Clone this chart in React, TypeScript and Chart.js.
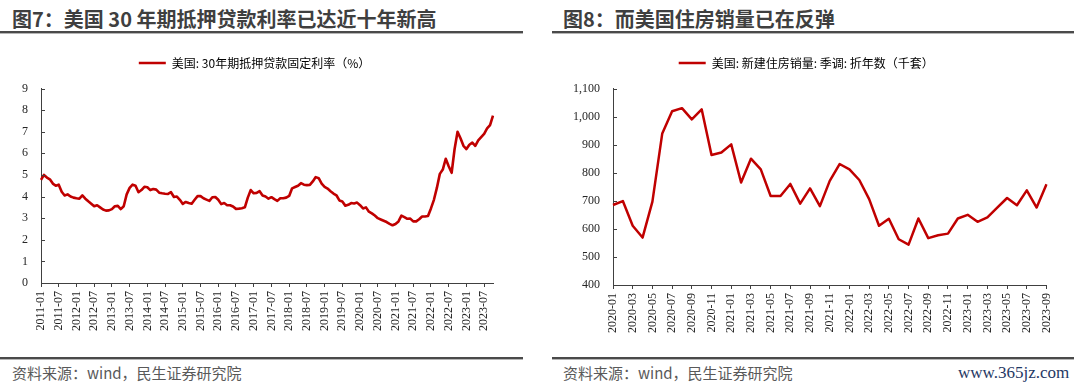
import React, { useEffect, useRef } from 'react';
import { Chart, registerables } from 'chart.js';

Chart.register(...registerables);

const RED = '#C00000';
const AXIS = '#404040';
const TICK_TEXT = '#262626';

// ---------- Figure 7: US 30Y fixed mortgage rate (%), monthly 2011-01 .. 2023-10 ----------
const rateStartYear = 2011;
const rateValues = [
  // 2011
  4.77, 5.0, 4.88, 4.8, 4.6, 4.5, 4.55, 4.22, 4.05, 4.1, 4.0, 3.95,
  // 2012
  3.92, 3.9, 4.05, 3.9, 3.78, 3.67, 3.55, 3.6, 3.5, 3.4, 3.35, 3.36,
  // 2013
  3.42, 3.55, 3.57, 3.42, 3.55, 4.1, 4.4, 4.55, 4.5, 4.2, 4.3, 4.45,
  // 2014
  4.43, 4.3, 4.35, 4.32, 4.18, 4.15, 4.13, 4.12, 4.2, 3.98, 4.0, 3.85,
  // 2015
  3.66, 3.75, 3.7, 3.67, 3.85, 4.02, 4.02, 3.92, 3.86, 3.8, 3.97, 3.98,
  // 2016
  3.85, 3.65, 3.7, 3.6, 3.6, 3.54, 3.43, 3.44, 3.46, 3.5, 3.95, 4.3,
  // 2017
  4.15, 4.17, 4.25, 4.05, 4.0, 3.9, 3.97, 3.88, 3.8, 3.92, 3.92, 3.95,
  // 2018
  4.03, 4.38, 4.44, 4.5, 4.62, 4.55, 4.53, 4.54, 4.7, 4.9, 4.85, 4.6,
  // 2019
  4.45, 4.37, 4.25, 4.14, 4.06, 3.82, 3.77, 3.58, 3.62, 3.7, 3.68, 3.72,
  // 2020
  3.6, 3.45, 3.5, 3.3, 3.22, 3.12, 3.0, 2.94, 2.88, 2.82, 2.74, 2.67,
  // 2021
  2.73, 2.85, 3.12, 3.05, 2.97, 2.98, 2.85, 2.85, 2.95, 3.08, 3.08, 3.1,
  // 2022
  3.45, 3.85, 4.4, 5.05, 5.25, 5.75, 5.4, 5.1, 6.2, 7.0, 6.7, 6.35,
  // 2023
  6.2, 6.4, 6.5, 6.35, 6.6, 6.75, 6.9, 7.15, 7.3, 7.75,
];
const rateLabels: string[] = rateValues.map((_, i) => {
  const y = rateStartYear + Math.floor(i / 12);
  const m = (i % 12) + 1;
  return `${y}-${m < 10 ? '0' : ''}${m}`;
});
const rateShownMonths = ['01', '07'];
const rateLegend = '美国: 30年期抵押贷款固定利率（%）';
const rateYMin = 0;
const rateYMax = 9;
const rateYStep = 1;

// ---------- Figure 8: US new home sales, SAAR (thousand units), monthly 2020-01 .. 2023-09 ----------
const salesLabels = [
  '2020-01', '2020-02', '2020-03', '2020-04', '2020-05', '2020-06', '2020-07', '2020-08', '2020-09', '2020-10', '2020-11', '2020-12',
  '2021-01', '2021-02', '2021-03', '2021-04', '2021-05', '2021-06', '2021-07', '2021-08', '2021-09', '2021-10', '2021-11', '2021-12',
  '2022-01', '2022-02', '2022-03', '2022-04', '2022-05', '2022-06', '2022-07', '2022-08', '2022-09', '2022-10', '2022-11', '2022-12',
  '2023-01', '2023-02', '2023-03', '2023-04', '2023-05', '2023-06', '2023-07', '2023-08', '2023-09',
];
const salesValues = [
  685, 699, 611, 569, 697, 940, 1019, 1030, 990, 1026, 863, 872,
  901, 765, 850, 812, 717, 717, 760, 690, 744, 681, 771, 831,
  812, 774, 706, 611, 636, 563, 544, 637, 567, 577, 583, 637,
  650, 625, 641, 676, 710, 684, 737, 676, 759,
];
const salesShownMonths = ['01', '03', '05', '07', '09', '11'];
const salesLegend = '美国: 新建住房销量: 季调: 折年数（千套）';
const salesYMin = 400;
const salesYMax = 1100;
const salesYStep = 100;

// ---------- plugins ----------
const legendTweak = {
  id: 'legendTweak',
  beforeUpdate(chart: any, _args: any, opts: any) {
    const lg = chart.legend;
    if (lg && !lg.__patched) {
      const fit = lg.fit.bind(lg);
      lg.fit = () => {
        fit();
        lg.height += opts.extra || 0;
      };
      lg.__patched = true;
    }
  },
  afterLayout(chart: any, _args: any, opts: any) {
    const lg = chart.legend;
    if (lg && opts.dx) {
      lg.left += opts.dx;
      lg.right += opts.dx;
    }
  },
};

const inwardTicks = {
  id: 'inwardTicks',
  afterDraw(chart: any) {
    const s = chart.scales.y;
    const ctx = chart.ctx;
    ctx.save();
    ctx.strokeStyle = AXIS;
    ctx.lineWidth = 1;
    s.ticks.forEach((_t: any, i: number) => {
      const py = Math.round(s.getPixelForTick(i)) + 0.5;
      ctx.beginPath();
      ctx.moveTo(s.right, py);
      ctx.lineTo(s.right + 4, py);
      ctx.stroke();
    });
    ctx.restore();
  },
};

type Props = {
  labels: string[];
  values: number[];
  legend: string;
  shownMonths: string[];
  yMin: number;
  yMax: number;
  yStep: number;
  fmt: (v: number) => string;
  width: number;
  height: number;
  yWidth: number;
  xHeight: number;
  padRight: number;
  padTop: number;
  legendExtra: number;
  legendDx: number;
  lineWidth: number;
  style: React.CSSProperties;
};

const SERIF = '"Liberation Serif", "Times New Roman", Times, serif';

function LineChart(p: Props) {
  const ref = useRef<HTMLCanvasElement | null>(null);
  useEffect(() => {
    if (!ref.current) return;
    const chart = new Chart(ref.current, {
      type: 'line',
      data: {
        labels: p.labels,
        datasets: [
          {
            label: p.legend,
            data: p.values,
            borderColor: RED,
            backgroundColor: RED,
            borderWidth: p.lineWidth,
            pointRadius: 0,
            tension: 0,
            borderJoinStyle: 'round',
            fill: false,
          },
        ],
      },
      options: {
        animation: false,
        responsive: false,
        maintainAspectRatio: false,
        devicePixelRatio: 1,
        layout: { padding: { top: p.padTop, left: 0, right: p.padRight, bottom: 0 } },
        plugins: {
          tooltip: { enabled: false },
          legend: {
            display: true,
            position: 'top',
            labels: {
              boxWidth: 27,
              boxHeight: 2.5,
              padding: 6,
              color: '#595959',
              font: { family: '"Noto Sans CJK SC", "Noto Sans", sans-serif', size: 12 },
              generateLabels: () => [
                {
                  text: p.legend,
                  fillStyle: RED,
                  strokeStyle: RED,
                  lineWidth: 0,
                  hidden: false,
                  datasetIndex: 0,
                },
              ],
            },
          },
          legendTweak: { extra: p.legendExtra, dx: p.legendDx },
        } as any,
        scales: {
          x: {
            type: 'category',
            offset: false,
            grid: { display: true, drawOnChartArea: false, drawTicks: true, tickLength: 4, color: AXIS },
            border: { display: true, color: AXIS, width: 1 },
            ticks: {
              autoSkip: false,
              maxRotation: 90,
              minRotation: 90,
              padding: 4,
              color: TICK_TEXT,
              font: { family: SERIF, size: 12 },
              callback: function (this: any, _v: any, i: number) {
                const lab = p.labels[i];
                return p.shownMonths.includes(lab.slice(5)) ? lab : null;
              },
            },
            afterFit: (s: any) => {
              s.height = p.xHeight;
            },
          },
          y: {
            min: p.yMin,
            max: p.yMax,
            grid: { display: true, drawOnChartArea: false, drawTicks: false, color: AXIS },
            border: { display: true, color: AXIS, width: 1 },
            ticks: {
              stepSize: p.yStep,
              padding: 13,
              color: TICK_TEXT,
              font: { family: SERIF, size: 12 },
              callback: (v: any) => p.fmt(Number(v)),
            },
            afterFit: (s: any) => {
              s.width = p.yWidth;
            },
          },
        },
      },
      plugins: [legendTweak, inwardTicks],
    } as any);
    return () => chart.destroy();
  }, []);
  return <canvas ref={ref} width={p.width} height={p.height} style={{ position: 'absolute', ...p.style }} />;
}

const titleStyle: React.CSSProperties = {
  position: 'absolute',
  top: 8,
  height: 22,
  lineHeight: '22px',
  fontFamily: '"Noto Sans CJK SC", sans-serif',
  fontWeight: 700,
  fontSize: 20,
  color: '#3f3f3f',
  whiteSpace: 'nowrap',
};
const footStyle: React.CSSProperties = {
  position: 'absolute',
  top: 363,
  height: 20,
  lineHeight: '20px',
  fontFamily: '"Noto Sans CJK SC", sans-serif',
  fontSize: 15,
  color: '#595959',
  whiteSpace: 'nowrap',
};
const rule = (left: number, top: number, width: number): React.CSSProperties => ({
  position: 'absolute',
  left,
  top,
  width,
  height: 2,
  background: '#4a4a4a',
  borderBottom: '1px solid #b5b5b5',
});

export default function App() {
  return (
    <div
      style={{
        position: 'absolute',
        left: 0,
        top: 0,
        width: 1080,
        height: 382,
        background: '#fff',
        overflow: 'hidden',
      }}
    >
      <LineChart
        labels={rateLabels}
        values={rateValues}
        legend={rateLegend}
        shownMonths={rateShownMonths}
        yMin={rateYMin}
        yMax={rateYMax}
        yStep={rateYStep}
        fmt={(v) => String(v)}
        width={510}
        height={320}
        yWidth={41}
        xHeight={77}
        padRight={17}
        padTop={11}
        legendExtra={9.5}
        legendDx={8}
        lineWidth={2.6}
        style={{ left: 0, top: 40 }}
      />
      <LineChart
        labels={salesLabels}
        values={salesValues}
        legend={salesLegend}
        shownMonths={salesShownMonths}
        yMin={salesYMin}
        yMax={salesYMax}
        yStep={salesYStep}
        fmt={(v) => v.toLocaleString('en-US')}
        width={525}
        height={320}
        yWidth={73}
        xHeight={75}
        padRight={18.5}
        padTop={11}
        legendExtra={9.5}
        legendDx={13}
        lineWidth={2.5}
        style={{ left: 540, top: 40 }}
      />
      <div style={{ ...titleStyle, left: 12 }}>图7：美国 30 年期抵押贷款利率已达近十年新高</div>
      <div style={{ ...titleStyle, left: 563 }}>图8：而美国住房销量已在反弹</div>
      <div style={rule(0, 31, 523)} />
      <div style={rule(552, 31, 522)} />
      <div style={rule(0, 357, 523)} />
      <div style={rule(552, 357, 522)} />
      <div style={{ ...footStyle, left: 12 }}>资料来源：wind，民生证券研究院</div>
      <div style={{ ...footStyle, left: 563 }}>资料来源：wind，民生证券研究院</div>
      <div
        style={{
          position: 'absolute',
          left: 958,
          top: 363,
          height: 20,
          lineHeight: '20px',
          fontFamily: '"Liberation Serif", serif',
          fontSize: 17,
          color: '#1f3864',
          whiteSpace: 'nowrap',
        }}
      >
        www.365jz.com
      </div>
    </div>
  );
}
